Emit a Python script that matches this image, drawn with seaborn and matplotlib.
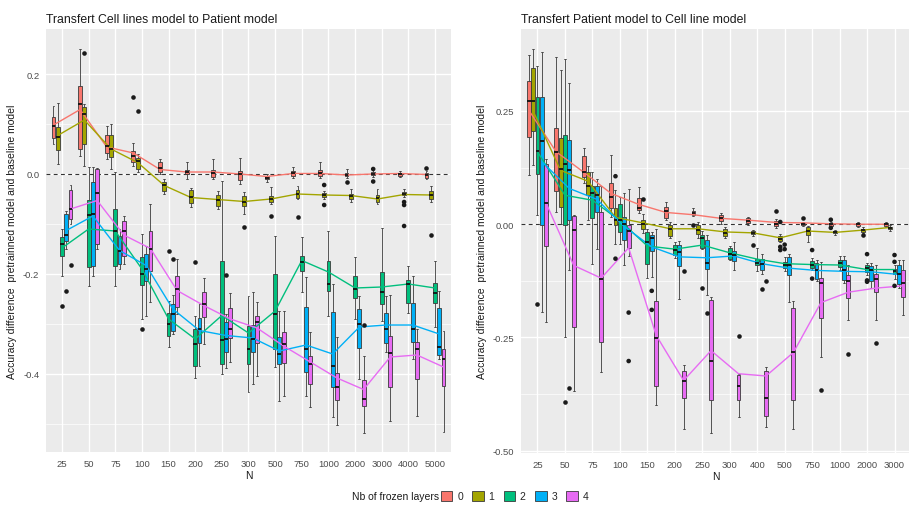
import numpy as np
import pandas as pd
import matplotlib
matplotlib.use("Agg")
import matplotlib.pyplot as plt
from matplotlib.patches import Patch
from matplotlib.ticker import FormatStrFormatter
import seaborn as sns

# ---------------- data ----------------
LAYERS = ["0", "1", "2", "3", "4"]
COLORS = ["#F8766D", "#A3A500", "#00BF7D", "#00B0F6", "#E76BF3"]

left_N = ["25", "50", "75", "100", "150", "200", "250", "300", "500", "750",
          "1000", "2000", "3000", "4000", "5000"]
right_N = ["25", "50", "75", "100", "150", "200", "250", "300", "400", "500",
           "750", "1000", "2000", "3000"]

# five-number summaries (low whisker, q1, median, q3, high whisker) per N
left_box_0 = [(0.06, 0.072, 0.096, 0.114, 0.136), (0.036, 0.05, 0.14, 0.176, 0.25),
              (0.03, 0.042, 0.056, 0.078, 0.096), (0.016, 0.024, 0.036, 0.046, 0.062),
              (0.0, 0.004, 0.012, 0.024, 0.03), (-0.01, 0.0, 0.004, 0.008, 0.024),
              (-0.01, -0.006, 0.002, 0.008, 0.03), (-0.02, -0.011, 0.0, 0.007, 0.032),
              (-0.016, -0.01, -0.008, -0.004, 0.0), (-0.008, -0.003, 0.002, 0.007, 0.014),
              (-0.008, -0.003, 0.002, 0.009, 0.024), (-0.008, -0.004, -0.001, 0.002, 0.01),
              (-0.006, -0.002, 0.001, 0.005, 0.01), (-0.006, -0.004, 0.0, 0.003, 0.006),
              (-0.01, -0.007, -0.002, 0.002, 0.006)]
left_box_1 = [(0.02, 0.048, 0.074, 0.094, 0.142), (0.016, 0.06, 0.12, 0.134, 0.14),
              (0.01, 0.034, 0.05, 0.078, 0.1), (0.004, 0.01, 0.026, 0.032, 0.04),
              (-0.04, -0.034, -0.022, -0.016, -0.01), (-0.066, -0.058, -0.046, -0.032, -0.028),
              (-0.07, -0.064, -0.052, -0.042, -0.034), (-0.08, -0.064, -0.055, -0.043, -0.036),
              (-0.06, -0.056, -0.05, -0.043, -0.026), (-0.05, -0.048, -0.04, -0.031, -0.024),
              (-0.05, -0.046, -0.042, -0.038, -0.034), (-0.055, -0.049, -0.043, -0.039, -0.03),
              (-0.06, -0.055, -0.048, -0.041, -0.03), (-0.046, -0.042, -0.04, -0.035, -0.03),
              (-0.056, -0.05, -0.042, -0.033, -0.024)]
left_box_2 = [(-0.204, -0.164, -0.14, -0.126, -0.11), (-0.224, -0.186, -0.082, -0.052, 0.014),
              (-0.224, -0.184, -0.114, -0.07, 0.004), (-0.29, -0.222, -0.2, -0.166, -0.12),
              (-0.346, -0.324, -0.3, -0.278, -0.254), (-0.408, -0.384, -0.34, -0.31, -0.284),
              (-0.4, -0.38, -0.332, -0.174, -0.014), (-0.436, -0.38, -0.35, -0.304, -0.244),
              (-0.386, -0.35, -0.28, -0.2, -0.124), (-0.236, -0.193, -0.175, -0.163, -0.126),
              (-0.283, -0.233, -0.22, -0.173, -0.113), (-0.29, -0.248, -0.23, -0.204, -0.166),
              (-0.294, -0.26, -0.235, -0.196, -0.108), (-0.277, -0.257, -0.22, -0.211, -0.183),
              (-0.306, -0.257, -0.237, -0.218, -0.173)]
left_box_3 = [(-0.15, -0.134, -0.122, -0.08, -0.074), (-0.204, -0.184, -0.08, -0.016, 0.014),
              (-0.19, -0.18, -0.154, -0.124, -0.11), (-0.284, -0.214, -0.19, -0.16, -0.144),
              (-0.32, -0.314, -0.28, -0.26, -0.242), (-0.384, -0.338, -0.31, -0.288, -0.26),
              (-0.388, -0.356, -0.33, -0.296, -0.28), (-0.42, -0.356, -0.33, -0.302, -0.236),
              (-0.454, -0.38, -0.36, -0.326, -0.274), (-0.444, -0.396, -0.35, -0.266, -0.206),
              (-0.486, -0.426, -0.384, -0.275, -0.22), (-0.41, -0.348, -0.3, -0.27, -0.244),
              (-0.356, -0.338, -0.31, -0.278, -0.244), (-0.37, -0.335, -0.31, -0.258, -0.203),
              (-0.37, -0.362, -0.345, -0.268, -0.234)]
left_box_4 = [(-0.1, -0.09, -0.07, -0.032, -0.022), (-0.15, -0.14, -0.038, 0.01, 0.012),
              (-0.18, -0.164, -0.114, -0.094, -0.084), (-0.256, -0.194, -0.15, -0.114, -0.06),
              (-0.28, -0.266, -0.23, -0.204, -0.17), (-0.34, -0.286, -0.26, -0.236, -0.208),
              (-0.376, -0.328, -0.31, -0.268, -0.238), (-0.404, -0.338, -0.296, -0.284, -0.256),
              (-0.444, -0.378, -0.34, -0.316, -0.274), (-0.466, -0.42, -0.38, -0.364, -0.316),
              (-0.502, -0.451, -0.425, -0.398, -0.326), (-0.518, -0.463, -0.45, -0.411, -0.363),
              (-0.493, -0.426, -0.357, -0.323, -0.242), (-0.483, -0.41, -0.35, -0.335, -0.31),
              (-0.515, -0.424, -0.37, -0.35, -0.314)]

right_box_0 = [(0.108, 0.193, 0.271, 0.316, 0.374), (0.028, 0.073, 0.16, 0.213, 0.37),
               (0.09, 0.105, 0.115, 0.15, 0.168), (0.017, 0.035, 0.06, 0.09, 0.153),
               (0.025, 0.031, 0.035, 0.057, 0.083), (0.01, 0.014, 0.03, 0.038, 0.049),
               (0.018, 0.021, 0.025, 0.029, 0.035), (0.0, 0.007, 0.013, 0.02, 0.025),
               (-0.002, 0.002, 0.007, 0.013, 0.016), (-0.008, -0.004, 0.0, 0.007, 0.012),
               (-0.004, -0.002, 0.0, 0.003, 0.006), (-0.005, -0.003, 0.0, 0.002, 0.005),
               (-0.006, -0.004, 0.0, 0.002, 0.004), (-0.005, -0.003, 0.0, 0.003, 0.005)]
right_box_1 = [(0.13, 0.206, 0.273, 0.346, 0.387), (0.0, 0.038, 0.122, 0.191, 0.34),
               (0.01, 0.064, 0.085, 0.116, 0.128), (-0.043, -0.002, 0.01, 0.035, 0.075),
               (-0.02, -0.011, 0.0, 0.009, 0.023), (-0.03, -0.026, -0.01, -0.002, 0.004),
               (-0.03, -0.022, -0.012, -0.002, 0.005), (-0.03, -0.026, -0.02, -0.01, -0.006),
               (-0.026, -0.022, -0.019, -0.015, -0.012), (-0.04, -0.037, -0.033, -0.027, -0.022),
               (-0.04, -0.023, -0.015, -0.007, -0.004), (-0.024, -0.02, -0.018, -0.015, -0.012),
               (-0.02, -0.017, -0.013, -0.01, -0.007), (-0.014, -0.011, -0.008, -0.005, -0.002)]
right_box_2 = [(0.02, 0.112, 0.161, 0.28, 0.35), (-0.249, -0.002, 0.132, 0.197, 0.365),
               (-0.087, 0.013, 0.07, 0.085, 0.115), (-0.043, -0.018, 0.01, 0.044, 0.06),
               (-0.119, -0.087, -0.04, -0.017, -0.01), (-0.075, -0.069, -0.057, -0.045, -0.04),
               (-0.055, -0.052, -0.03, -0.024, -0.014), (-0.08, -0.076, -0.065, -0.052, -0.047),
               (-0.104, -0.09, -0.085, -0.076, -0.052), (-0.103, -0.097, -0.09, -0.083, -0.073),
               (-0.1, -0.097, -0.09, -0.082, -0.075), (-0.1, -0.094, -0.085, -0.078, -0.07),
               (-0.112, -0.105, -0.097, -0.09, -0.085), (-0.12, -0.11, -0.104, -0.098, -0.09)]
right_box_3 = [(-0.194, -0.002, 0.184, 0.28, 0.38), (-0.1, 0.009, 0.119, 0.186, 0.311),
               (-0.054, 0.027, 0.065, 0.085, 0.1), (-0.09, -0.035, 0.0, 0.016, 0.07),
               (-0.116, -0.06, -0.03, -0.023, -0.018), (-0.166, -0.092, -0.062, -0.046, -0.038),
               (-0.157, -0.098, -0.085, -0.035, -0.024), (-0.102, -0.082, -0.068, -0.06, -0.04),
               (-0.11, -0.102, -0.088, -0.076, -0.066), (-0.172, -0.113, -0.09, -0.072, -0.065),
               (-0.125, -0.12, -0.1, -0.085, -0.08), (-0.13, -0.124, -0.1, -0.08, -0.07),
               (-0.14, -0.126, -0.1, -0.092, -0.085), (-0.14, -0.133, -0.11, -0.089, -0.08)]
right_box_4 = [(-0.216, -0.048, 0.046, 0.134, 0.145), (-0.369, -0.226, -0.013, 0.019, 0.02),
               (-0.326, -0.259, -0.12, 0.026, 0.085), (-0.07, -0.052, -0.015, -0.002, 0.078),
               (-0.399, -0.357, -0.251, -0.17, -0.01), (-0.452, -0.383, -0.345, -0.323, -0.31),
               (-0.461, -0.389, -0.301, -0.168, -0.16), (-0.426, -0.387, -0.358, -0.333, -0.33),
               (-0.448, -0.423, -0.384, -0.324, -0.315), (-0.453, -0.387, -0.281, -0.184, -0.17),
               (-0.293, -0.207, -0.13, -0.119, -0.083), (-0.212, -0.163, -0.126, -0.111, -0.09),
               (-0.212, -0.15, -0.12, -0.109, -0.09), (-0.2, -0.16, -0.13, -0.1, -0.08)]

# outliers: (N, layer, value)
left_outliers = [("100", "0", 0.154), ("2000", "0", -0.015), ("3000", "0", 0.01),
                 ("3000", "0", -0.015), ("5000", "0", 0.013),
                 ("50", "1", 0.242), ("100", "1", 0.126), ("300", "1", -0.106),
                 ("500", "1", -0.084), ("750", "1", -0.086), ("1000", "1", -0.022),
                 ("1000", "1", -0.062), ("4000", "1", -0.056), ("4000", "1", -0.062),
                 ("4000", "1", -0.104), ("5000", "1", -0.122),
                 ("25", "2", -0.264), ("100", "2", -0.31), ("150", "2", -0.154),
                 ("200", "2", -0.176),
                 ("25", "3", -0.234), ("150", "3", -0.17), ("250", "3", -0.202),
                 ("25", "4", -0.182), ("2000", "4", -0.302)]
right_outliers = [("250", "0", -0.001), ("500", "0", 0.03), ("750", "0", 0.013),
                  ("1000", "0", 0.01), ("1000", "0", -0.008),
                  ("100", "1", 0.106), ("100", "1", -0.076), ("150", "1", 0.055),
                  ("400", "1", -0.046), ("500", "1", 0.005), ("500", "1", -0.05),
                  ("500", "1", -0.057), ("2000", "1", -0.023),
                  ("25", "2", -0.176), ("50", "2", -0.392), ("250", "2", -0.141),
                  ("500", "2", -0.045), ("500", "2", -0.055), ("750", "2", -0.057),
                  ("750", "2", -0.12), ("2000", "2", -0.066), ("2000", "2", -0.124),
                  ("2000", "2", -0.127), ("3000", "2", -0.068), ("3000", "2", -0.083),
                  ("3000", "2", -0.136),
                  ("50", "3", -0.362), ("150", "3", -0.147), ("150", "3", -0.189),
                  ("250", "3", -0.196), ("400", "3", -0.142),
                  ("100", "4", -0.195), ("100", "4", -0.302), ("200", "4", -0.104),
                  ("300", "4", -0.247), ("400", "4", -0.126), ("750", "4", -0.366),
                  ("1000", "4", -0.286), ("2000", "4", -0.262)]

# mean lines per layer
left_line_0 = [0.098, 0.129, 0.054, 0.042, 0.009, 0.004, 0.004, 0.0, -0.005, 0.001, 0.001, -0.002, 0.0, 0.001, -0.001]
left_line_1 = [0.077, 0.108, 0.05, 0.023, -0.023, -0.047, -0.051, -0.055, -0.05, -0.04, -0.042, -0.043, -0.05, -0.041, -0.042]
left_line_2 = [-0.148, -0.11, -0.114, -0.19, -0.29, -0.33, -0.283, -0.318, -0.274, -0.173, -0.196, -0.228, -0.226, -0.22, -0.228]
left_line_3 = [-0.113, -0.084, -0.153, -0.183, -0.27, -0.313, -0.323, -0.328, -0.354, -0.342, -0.36, -0.306, -0.302, -0.302, -0.32]
left_line_4 = [-0.07, -0.053, -0.122, -0.149, -0.233, -0.263, -0.29, -0.308, -0.344, -0.376, -0.408, -0.431, -0.366, -0.362, -0.386]

right_line_0 = [0.252, 0.16, 0.115, 0.068, 0.044, 0.026, 0.021, 0.013, 0.009, 0.004, 0.003, 0.001, 0.0, 0.0]
right_line_1 = [0.25, 0.119, 0.095, 0.015, 0.003, -0.01, -0.01, -0.017, -0.019, -0.03, -0.015, -0.018, -0.013, -0.007]
right_line_2 = [0.16, 0.064, 0.053, 0.008, -0.048, -0.055, -0.046, -0.063, -0.077, -0.087, -0.089, -0.09, -0.1, -0.1]
right_line_3 = [0.138, 0.079, 0.055, -0.005, -0.05, -0.072, -0.074, -0.07, -0.087, -0.097, -0.102, -0.104, -0.105, -0.111]
right_line_4 = [0.046, -0.091, -0.119, -0.052, -0.245, -0.345, -0.279, -0.33, -0.335, -0.283, -0.173, -0.15, -0.141, -0.136]

left_title = "Transfert Cell lines model to Patient model"
right_title = "Transfert Patient model to Cell line model"
y_label = "Accuracy difference  pretrainned model and baseline model"
legend_title = "Nb of frozen layers"

# ---------------- style ----------------
sns.set_theme(style="white")
plt.rcParams["font.family"] = ["Liberation Sans", "DejaVu Sans"]
plt.rcParams["axes.unicode_minus"] = False

palette = dict(zip(LAYERS, COLORS))
black = {k: "#1a1a1a" for k in LAYERS}


def box_frame(boxes, Ns):
    rows = []
    for layer, groups in zip(LAYERS, boxes):
        for n, five in zip(Ns, groups):
            for v in five:
                rows.append((n, layer, v))
    return pd.DataFrame(rows, columns=["N", "layer", "value"])


def line_frame(lines, Ns):
    rows = []
    for layer, vals in zip(LAYERS, lines):
        for n, v in zip(Ns, vals):
            rows.append((n, layer, v))
    return pd.DataFrame(rows, columns=["N", "layer", "value"])


def draw_panel(ax, boxes, lines, outliers, Ns, title, yticks, yminor, ylim, fmt):
    ax.set_facecolor("#EBEBEB")
    ax.axhline(0, color="#333333", lw=0.8, ls=(0, (3.5, 3)), zorder=1.2)
    bdf = box_frame(boxes, Ns)
    sns.boxplot(data=bdf, x="N", y="value", hue="layer", order=Ns, hue_order=LAYERS,
                palette=palette, saturation=1, width=0.8, gap=0.1, whis=(0, 100),
                showfliers=False, linecolor="#3a3a3a", linewidth=0.6,
                medianprops={"color": "#111111", "linewidth": 1.3},
                legend=False, ax=ax)
    ldf = line_frame(lines, Ns)
    sns.pointplot(data=ldf, x="N", y="value", hue="layer", order=Ns, hue_order=LAYERS,
                  palette=palette, dodge=0.64, markers="", errorbar=None,
                  linewidth=1.0, legend=False, ax=ax)
    odf = pd.DataFrame(outliers, columns=["N", "layer", "value"])
    sns.stripplot(data=odf, x="N", y="value", hue="layer", order=Ns, hue_order=LAYERS,
                  palette=black, dodge=True, jitter=False, size=3.3, linewidth=0,
                  legend=False, ax=ax, zorder=4)
    ax.set_xlim(-0.6, len(Ns) - 0.4)
    ax.set_ylim(*ylim)
    ax.set_yticks(yticks)
    ax.set_yticks(yminor, minor=True)
    ax.yaxis.set_major_formatter(FormatStrFormatter(fmt))
    ax.grid(True, which="major", color="white", lw=1.0)
    ax.grid(True, which="minor", axis="y", color="white", lw=0.5)
    ax.set_axisbelow(True)
    for s in ax.spines.values():
        s.set_visible(False)
    ax.tick_params(axis="both", which="major", length=2.75, width=0.6, color="#333333",
                   labelsize=6.8, labelcolor="#4D4D4D", pad=2)
    ax.tick_params(axis="y", which="minor", length=0)
    ax.set_xlabel("N", fontsize=7.5, color="#1a1a1a", labelpad=2)
    ax.set_ylabel(y_label, fontsize=7.5, color="#1a1a1a", labelpad=4)
    ax.set_title(title, loc="left", fontsize=8.8, color="#1a1a1a", pad=5)


fig = plt.figure(figsize=(9.09, 5.06), dpi=100)
axL = fig.add_axes([46 / 909, 53 / 506, 405 / 909, 423 / 506])
axR = fig.add_axes([521 / 909, 52 / 506, 390 / 909, 424 / 506])

draw_panel(axL, [left_box_0, left_box_1, left_box_2, left_box_3, left_box_4],
           [left_line_0, left_line_1, left_line_2, left_line_3, left_line_4],
           left_outliers, left_N, left_title,
           [0.2, 0.0, -0.2, -0.4], [0.1, -0.1, -0.3, -0.5], (-0.556, 0.29), "%.1f")
draw_panel(axR, [right_box_0, right_box_1, right_box_2, right_box_3, right_box_4],
           [right_line_0, right_line_1, right_line_2, right_line_3, right_line_4],
           right_outliers, right_N, right_title,
           [0.25, 0.0, -0.25, -0.5], [0.125, -0.125, -0.375], (-0.505, 0.431), "%.2f")

# legend
fig.text(352 / 909, 1 - 497 / 506, legend_title, fontsize=7.5, color="#1a1a1a",
         ha="left", va="center")
handles = [Patch(facecolor=c, edgecolor="#3a3a3a", linewidth=0.6) for c in COLORS]
fig.legend(handles, LAYERS, loc="center left", bbox_to_anchor=(441 / 909, 1 - 497 / 506),
           ncol=5, frameon=False, fontsize=7.5, handlelength=1.1, handleheight=1.1,
           handletextpad=0.45, columnspacing=0.9, borderaxespad=0, borderpad=0)

fig.savefig("out.png", dpi=100)
